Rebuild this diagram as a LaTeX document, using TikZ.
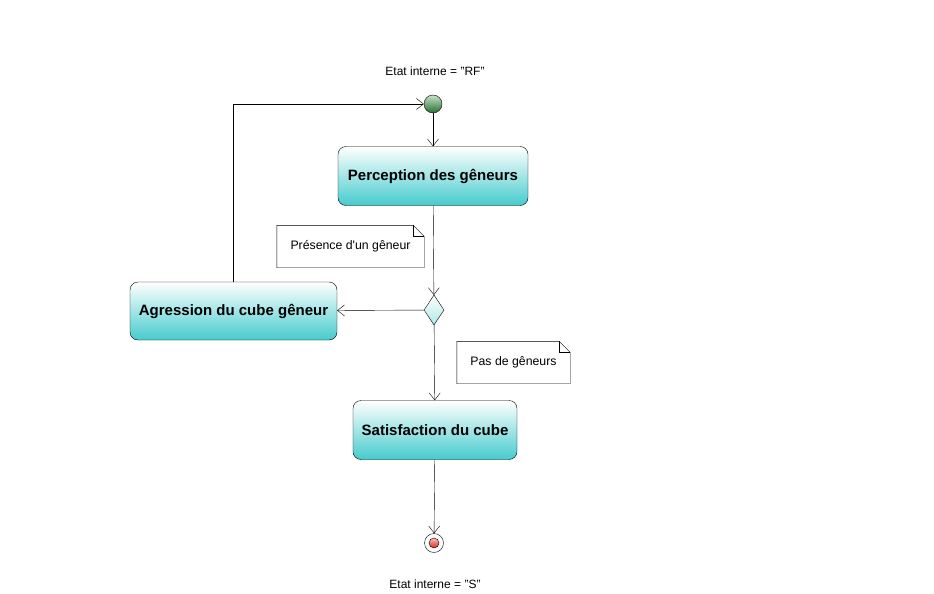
\documentclass[tikz,border=0pt]{standalone}
\usepackage{fontspec}
\setmainfont{Liberation Sans}
\usetikzlibrary{arrows.meta,shapes.geometric}
\definecolor{actteal}{RGB}{70,203,205}
\definecolor{startlight}{RGB}{200,225,200}
\definecolor{startdark}{RGB}{40,110,50}
\definecolor{endlight}{RGB}{255,190,180}
\definecolor{enddark}{RGB}{215,40,30}
\tikzset{
    action/.style={draw, rounded corners=8pt, top color=white, bottom color=actteal, inner sep=0pt,
        font=\fontsize{15}{17}\selectfont\bfseries},
    decision/.style={draw, diamond, inner sep=0pt, minimum width=20pt, minimum height=30pt,
        top color=white, bottom color=actteal!45},
    notebox/.style={inner sep=0pt, minimum height=42pt, font=\fontsize{12.3}{14}\selectfont},
    statelabel/.style={font=\fontsize{12}{14}\selectfont},
    flow/.style={-{Straight Barb[length=7pt,width=11pt]}, thin}
}
\begin{document}
\begin{tikzpicture}[x=1pt, y=-1pt]
            \useasboundingbox (0,0) rectangle (934,594);
            \node[statelabel] (rf) at (435,71) {Etat interne = "RF"};
            \node[circle, draw, minimum size=18pt, inner sep=0pt, top color=startlight, bottom color=startdark] (start) at (433,104) {};
            \node[action, minimum width=190pt, minimum height=59pt] (perc) at (433,176) {Perception des gêneurs};
            \node[notebox, minimum width=147pt] (n1) at (350.5,246.5) {Présence d\textquotesingle un gêneur};
            \node[decision] (dec) at (434,310) {};
            \node[action, minimum width=207pt, minimum height=58pt] (agr) at (233.5,311) {Agression du cube gêneur};
            \node[notebox, minimum width=113pt] (n2) at (513.5,362.5) {Pas de gêneurs};
            \node[action, minimum width=164pt, minimum height=59pt] (sat) at (435,430) {Satisfaction du cube};
            \node[circle, draw, fill=white, minimum size=19pt, inner sep=0pt] (stop) at (434,543) {};
            \node[circle, draw, minimum size=10pt, inner sep=0pt, top color=endlight, bottom color=enddark] (stopin) at (434,543) {};
            \node[statelabel] (s) at (435,584) {Etat interne = "S"};
            \draw (n1.north west) -- ([xshift=-11pt]n1.north east) -- ([yshift=-11pt]n1.north east) -- (n1.south east) -- (n1.south west) -- cycle;
            \draw ([xshift=-11pt]n1.north east) |- ([yshift=-11pt]n1.north east);
            \draw (n2.north west) -- ([xshift=-11pt]n2.north east) -- ([yshift=-11pt]n2.north east) -- (n2.south east) -- (n2.south west) -- cycle;
            \draw ([xshift=-11pt]n2.north east) |- ([yshift=-11pt]n2.north east);
            \draw[flow] (start) -- (perc);
            \draw[flow] (perc) -- (dec);
            \draw[flow] (dec) -- (agr);
            \draw[flow] (dec) -- (sat);
            \draw[flow] (sat) -- (stop);
            \draw[flow] (agr.north) |- (start.west);
        \end{tikzpicture}
\end{document}
